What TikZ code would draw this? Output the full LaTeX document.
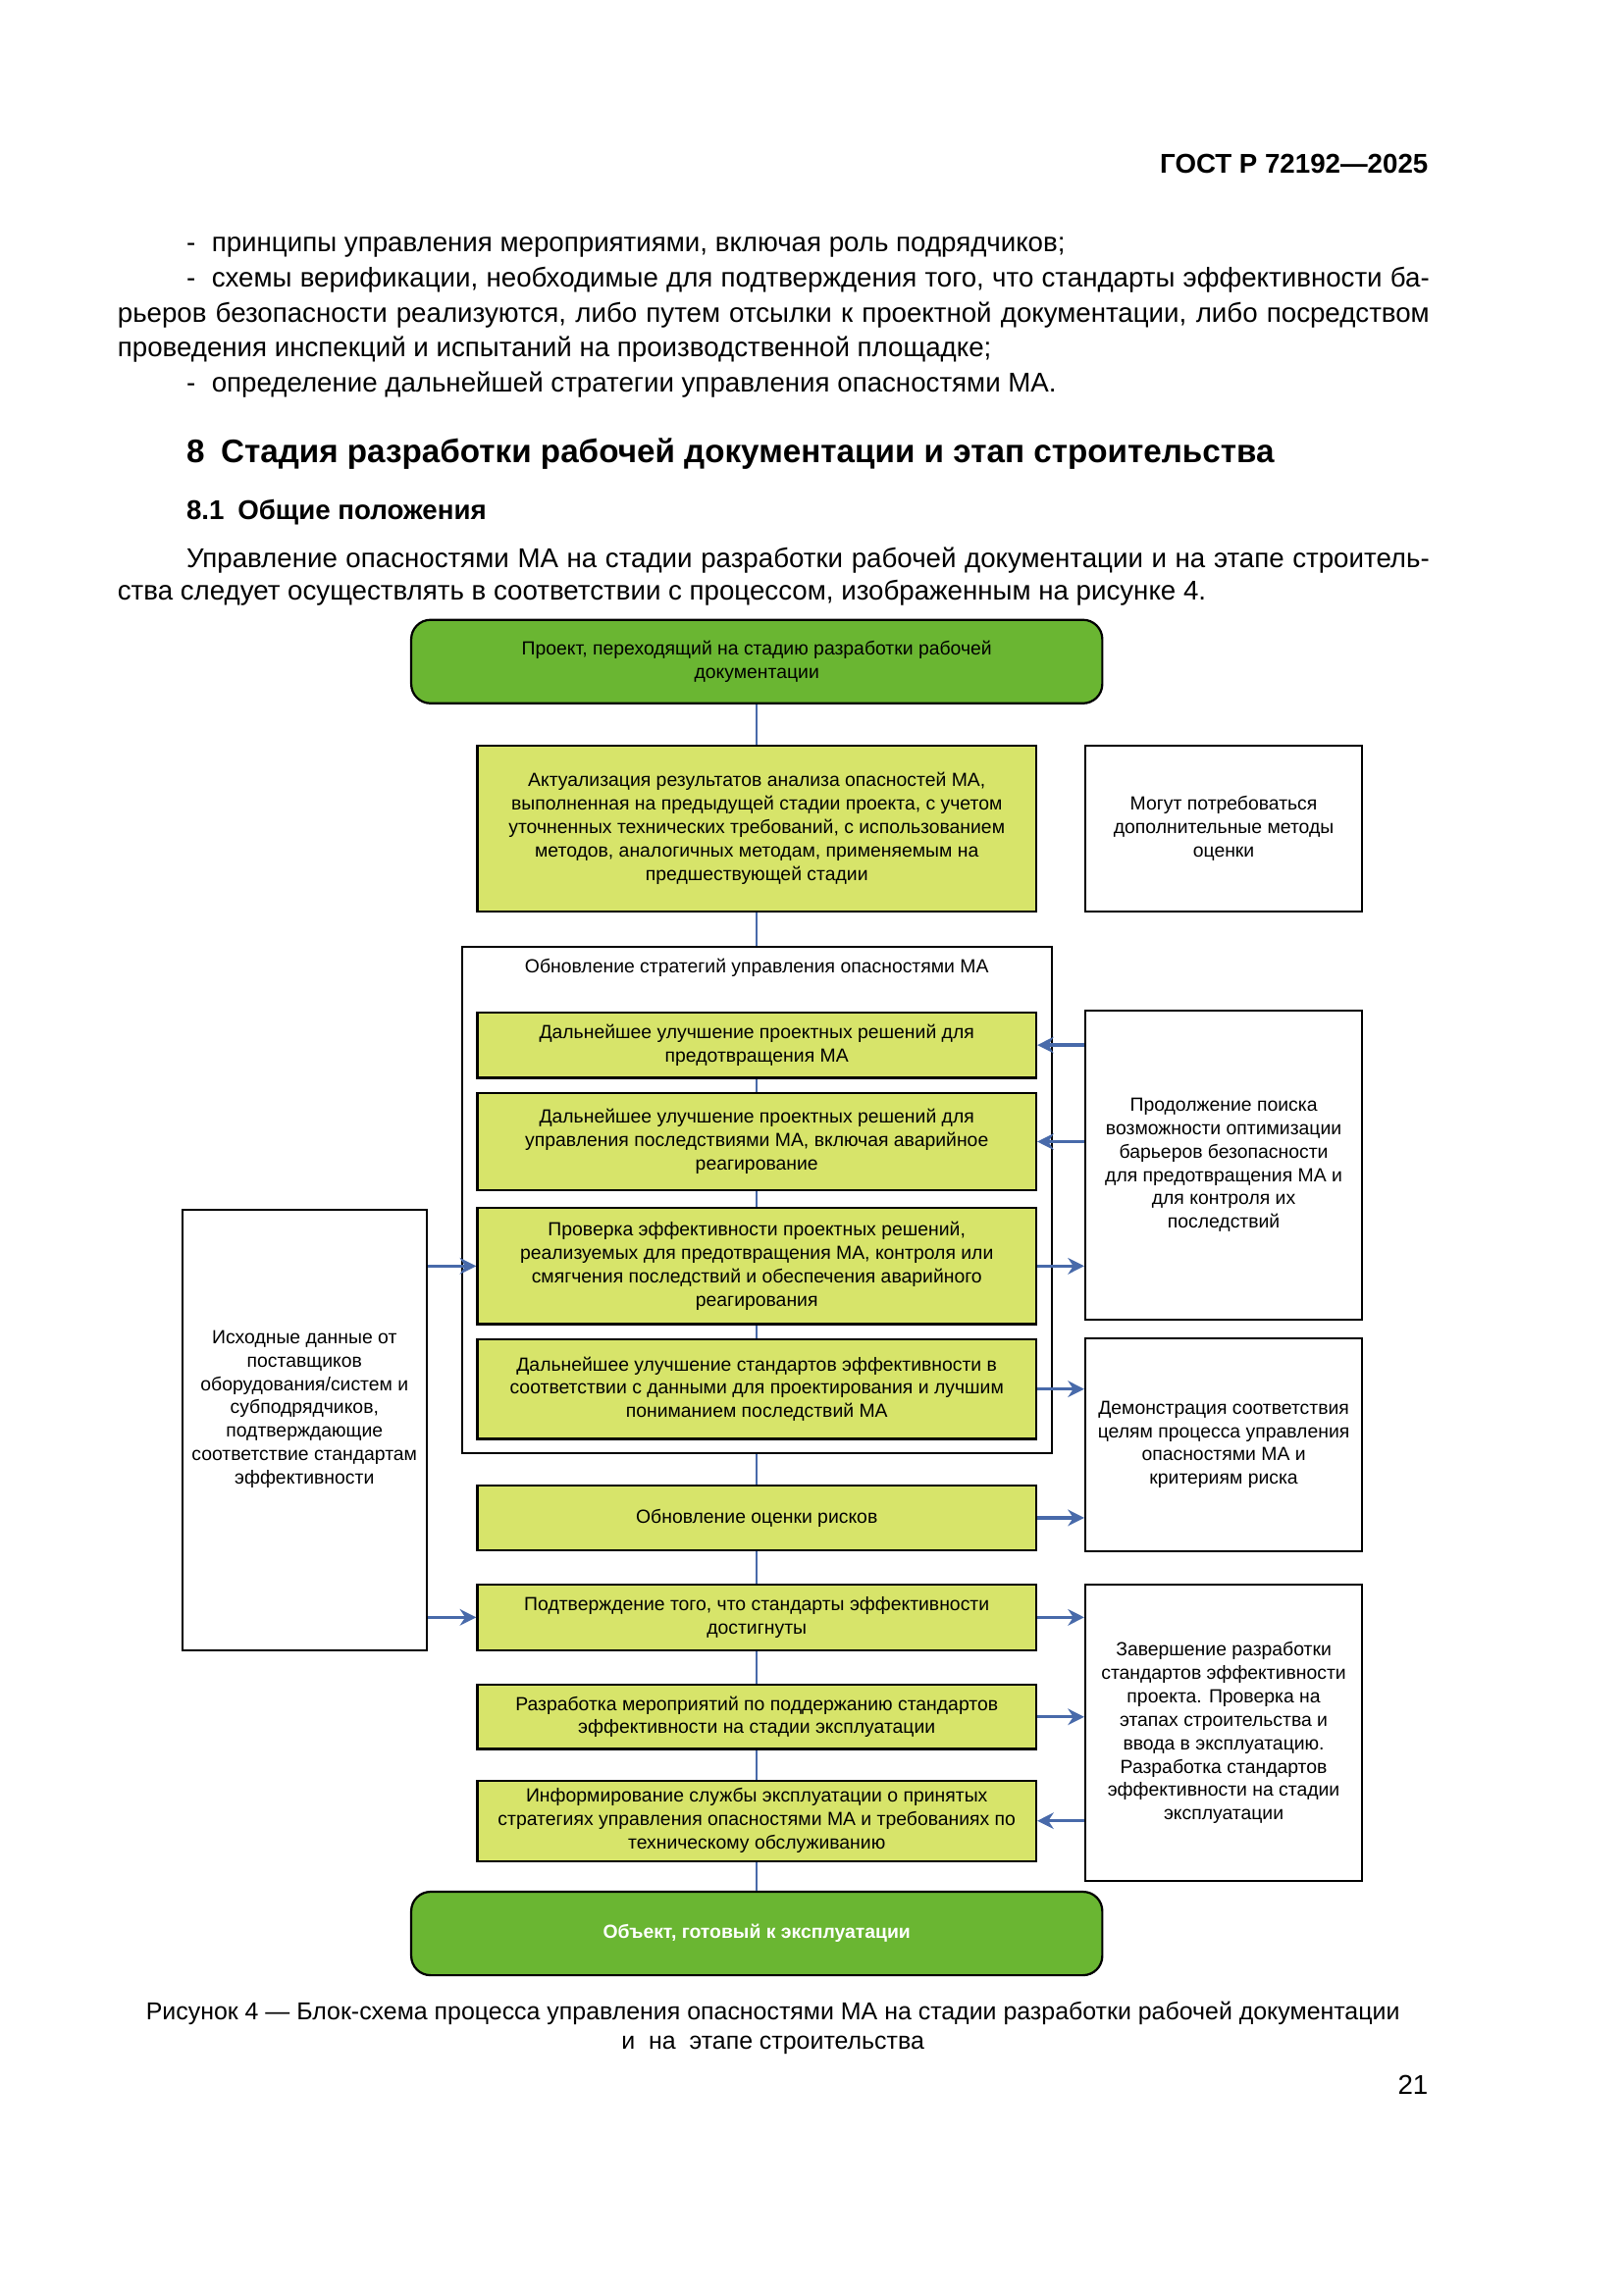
\documentclass[tikz,border=0pt]{standalone}
\usepackage{fontspec}
\setmainfont{Liberation Sans}
\usepackage{xcolor}
\usetikzlibrary{arrows.meta}
\definecolor{projGreen}{RGB}{106, 182, 50}
\definecolor{stageYellow}{RGB}{215, 228, 106}
\definecolor{linkBlue}{RGB}{72, 106, 170}
\newcommand{\diagfont}{\fontsize{7}{8.6}\selectfont}
\newcommand{\bodyfont}{\fontsize{10}{12.9}\selectfont}

\begin{document}
\begin{tikzpicture}[x=0.018936cm, y=-0.018936cm,
    pagetext/.style={anchor=base west, inner sep=0pt, font=\bodyfont},
    greenbox/.style={draw=black, thick, fill=projGreen, rounded corners=0.25cm,
        minimum width=8.94cm, minimum height=1.08cm, inner sep=0pt, align=center, font=\diagfont},
    stagebox/.style={draw=black, thick, fill=stageYellow, minimum width=7.23cm,
        inner sep=0pt, align=center, font=\diagfont},
    notebox/.style={draw=black, thick, fill=white, minimum width=3.58cm,
        inner sep=0pt, align=center, font=\diagfont},
    link/.style={draw=linkBlue, semithick},
    feed/.style={draw=linkBlue, line width=1.2pt, -{Stealth[length=6pt, width=6pt]}, fill=linkBlue}]
    \useasboundingbox[fill=white] (0,0) rectangle (1109,1568);

    \node[pagetext, anchor=base east, font=\bodyfont\bfseries] (hdr) at (976,118) {ГОСТ Р 72192—2025};
    \node[pagetext] (ln1) at (127,172) {-\hspace{0.6em}принципы управления мероприятиями, включая роль подрядчиков;};
    \node[pagetext] (ln2) at (127,196) {\makebox[16.08cm][s]{-\hspace{0.6em}схемы верификации, необходимые для подтверждения того, что стандарты эффективности ба-}};
    \node[pagetext] (ln3) at (80,220) {\makebox[16.97cm][s]{рьеров безопасности реализуются, либо путем отсылки к проектной документации, либо посредством}};
    \node[pagetext] (ln4) at (80,244) {проведения инспекций и испытаний на производственной площадке;};
    \node[pagetext] (ln5) at (127,268) {-\hspace{0.6em}определение дальнейшей стратегии управления опасностями МА.};
    \node[pagetext, font=\fontsize{12}{14}\selectfont\bfseries] (sec) at (127,316) {8\hspace{0.5em}Стадия разработки рабочей документации и этап строительства};
    \node[pagetext, font=\bodyfont\bfseries] (subsec) at (127,355) {8.1\hspace{0.5em}Общие положения};
    \node[pagetext] (par1) at (127,388) {\makebox[16.08cm][s]{Управление опасностями МА на стадии разработки рабочей документации и на этапе строитель-}};
    \node[pagetext] (par2) at (80,410) {ства следует осуществлять в соответствии с процессом, изображенным на рисунке 4.};

    \node[greenbox] (start) at (517,452) {Проект, переходящий на стадию разработки рабочей\\документации};
    \node[stagebox, minimum height=2.14cm] (akt) at (517,566) {Актуализация результатов анализа опасностей МА,\\выполненная на предыдущей стадии проекта, с учетом\\уточненных технических требований, с использованием\\методов, аналогичных методам, применяемым на\\предшествующей стадии};
    \node[notebox, minimum height=2.14cm] (extra) at (836,566) {Могут потребоваться\\дополнительные методы\\оценки};

    \node[draw=black, thick, minimum width=7.63cm, minimum height=6.55cm] (strat) at (517,820) {};
    \node[font=\diagfont] (strattitle) at (517,661) {Обновление стратегий управления опасностями МА};
    \node[stagebox, minimum height=0.85cm] (prev) at (517,714) {Дальнейшее улучшение проектных решений для\\предотвращения МА};
    \node[stagebox, minimum height=1.25cm] (cons) at (517,780) {Дальнейшее улучшение проектных решений для\\управления последствиями МА, включая аварийное\\реагирование};
    \node[stagebox, minimum height=1.50cm] (check) at (517,865) {Проверка эффективности проектных решений,\\реализуемых для предотвращения МА, контроля или\\смягчения последствий и обеспечения аварийного\\реагирования};
    \node[stagebox, minimum height=1.29cm] (stdimp) at (517,949) {Дальнейшее улучшение стандартов эффективности в\\соответствии с данными для проектирования и лучшим\\пониманием последствий МА};

    \node[notebox, minimum height=4.0cm] (search) at (836,796) {Продолжение поиска\\возможности оптимизации\\барьеров безопасности\\для предотвращения МА и\\для контроля их\\последствий};
    \node[notebox, minimum height=2.75cm] (demo) at (836,987) {Демонстрация соответствия\\целям процесса управления\\опасностями МА и\\критериям риска};
    \node[notebox, minimum width=3.16cm, minimum height=5.70cm] (vendor) at (208,977) {Исходные данные от\\поставщиков\\оборудования/систем и\\субподрядчиков,\\подтверждающие\\соответствие стандартам\\эффективности\\[2.2ex]};

    \node[stagebox, minimum height=0.83cm] (risk) at (517,1037) {Обновление оценки рисков};
    \node[stagebox, minimum height=0.85cm] (confirm) at (517,1105) {Подтверждение того, что стандарты эффективности\\достигнуты};
    \node[stagebox, minimum height=0.83cm] (maint) at (517,1173) {Разработка мероприятий по поддержанию стандартов\\эффективности на стадии эксплуатации};
    \node[stagebox, minimum height=1.04cm] (inform) at (517,1244) {Информирование службы эксплуатации о принятых\\стратегиях управления опасностями МА и требованиях по\\техническому обслуживанию};
    \node[notebox, minimum height=3.83cm] (finish) at (836,1184) {Завершение разработки\\стандартов эффективности\\проекта. Проверка на\\этапах строительства и\\ввода в эксплуатацию.\\Разработка стандартов\\эффективности на стадии\\эксплуатации};
    \node[greenbox, text=white, font=\diagfont\bfseries] (ready) at (517,1321) {Объект, готовый к эксплуатации};

    \draw[link] (start.south) -- (akt.north);
    \draw[link] (akt.south) -- (strat.north);
    \draw[link] (prev.south) -- (cons.north);
    \draw[link] (cons.south) -- (check.north);
    \draw[link] (check.south) -- (stdimp.north);
    \draw[link] (strat.south) -- (risk.north);
    \draw[link] (risk.south) -- (confirm.north);
    \draw[link] (confirm.south) -- (maint.north);
    \draw[link] (maint.south) -- (inform.north);
    \draw[link] (inform.south) -- (ready.north);

    \draw[feed] (search.west |- prev.east) -- (prev.east);
    \draw[feed] (search.west |- cons.east) -- (cons.east);
    \draw[feed] (check.east) -- (search.west |- check.east);
    \draw[feed] (vendor.east |- check.west) -- (check.west);
    \draw[feed] (stdimp.east) -- (demo.west |- stdimp.east);
    \draw[feed] (risk.east) -- (demo.west |- risk.east);
    \draw[feed] (vendor.east |- confirm.west) -- (confirm.west);
    \draw[feed] (confirm.east) -- (finish.west |- confirm.east);
    \draw[feed] (maint.east) -- (finish.west |- maint.east);
    \draw[feed] (finish.west |- inform.east) -- (inform.east);

    \node[pagetext, anchor=base, font=\fontsize{9}{11}\selectfont] (cap1) at (528,1380) {Рисунок 4 — Блок-схема процесса управления опасностями МА на стадии разработки рабочей документации};
    \node[pagetext, anchor=base, font=\fontsize{9}{11}\selectfont] (cap2) at (528,1400) {и\ \ на\ \ этапе строительства};
    \node[pagetext, anchor=base east] (pgno) at (976,1431) {21};
\end{tikzpicture}
\end{document}
